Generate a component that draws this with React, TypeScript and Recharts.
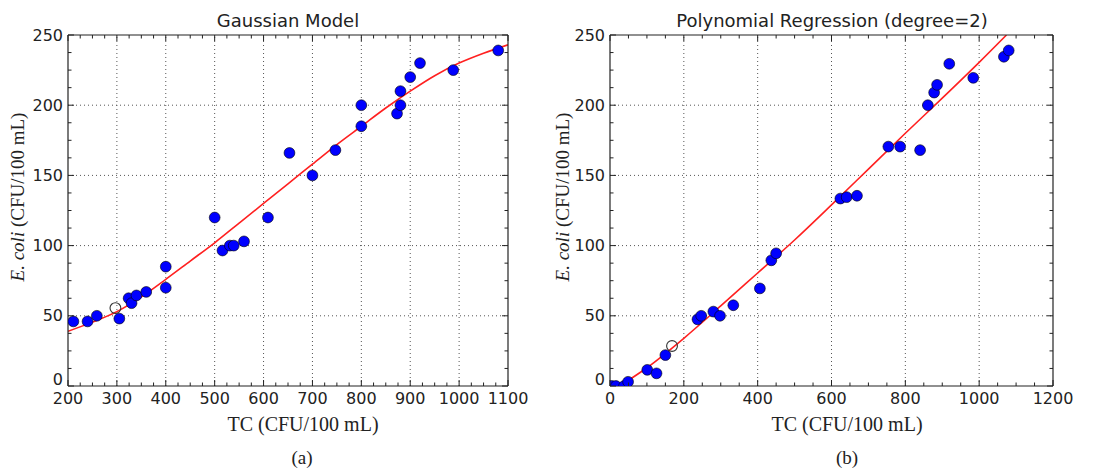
import React from "react";
import { ComposedChart, Scatter, Line, XAxis, YAxis, ReferenceLine } from "recharts";

// (a) Gaussian model: measured points
const gaussTc = [211, 240, 259, 305, 324, 330, 340, 360, 400, 400, 500, 516, 531, 539, 560, 609, 653, 700, 747, 800, 800, 873, 880, 880, 900, 920, 988, 1080];
const gaussEc = [46, 46, 50, 48, 62.5, 59, 64.5, 67, 85, 70, 120, 96.5, 100, 100, 103, 120, 166, 150, 168, 200, 185, 194, 210, 200, 220, 230, 225, 239];
const gaussOutTc = [297];
const gaussOutEc = [55.5];
// fitted curve
const gaussFitTc = [200, 250, 300, 350, 400, 450, 500, 550, 600, 650, 700, 750, 800, 850, 900, 950, 1000, 1050, 1100];
const gaussFitEc = [39, 45.5, 53, 63.5, 76, 89, 102, 116, 130, 144, 158, 172, 185, 198, 210, 221, 230, 237, 243];

// (b) polynomial regression
const polyTc = [5, 16, 38, 49, 101, 126, 150, 237, 247, 280, 298, 334, 406, 437, 450, 624, 641, 669, 754, 786, 840, 861, 878, 886, 919, 984, 1067, 1080];
const polyEc = [0, 0, 0, 3, 11.5, 9, 22, 47.5, 50, 53, 50, 57.5, 69.5, 89.5, 94.5, 133.5, 134.5, 135.5, 170.5, 170.5, 168, 200, 209, 214.5, 229.5, 219.5, 234.5, 239];
const polyOutTc = [168];
const polyOutEc = [28.5];
const polyFitTc = [26, 100, 200, 300, 400, 500, 600, 700, 800, 900, 1000, 1074];
const polyFitEc = [0, 13, 34, 57, 80.5, 104, 129, 154.5, 180, 205, 230.5, 250];

const yTicks = [0, 50, 100, 150, 200, 250];

const zip = (xs: number[], ys: number[]) => xs.map((x, i) => ({ x, y: ys[i] }));
const range = (a: number, b: number, s: number) => {
  const out: number[] = [];
  for (let v = a; v <= b + 1e-9; v += s) out.push(v);
  return out;
};

const INK = "#222";
const TICK_FONT = "'DejaVu Sans', sans-serif";
const SERIF = "'Liberation Serif', 'Times New Roman', serif";

const isMajor = (v: number, step: number) => Math.abs(v / step - Math.round(v / step)) < 1e-6;

const xTick = (step: number, top: boolean) => (p: any) => {
  const v = p.payload.value;
  const maj = isMajor(v, step);
  const len = maj ? 6 : 3.5;
  const dir = top ? 1 : -1;
  return (
    <g>
      <line x1={p.x} x2={p.x} y1={p.y} y2={p.y + dir * len} stroke={INK} strokeWidth={1} />
      {!top && maj && (
        <text x={p.x} y={p.y + 18} textAnchor="middle" fontSize={16} fontFamily={TICK_FONT} fill="#222">
          {v}
        </text>
      )}
    </g>
  );
};

const yTick = (step: number, right: boolean) => (p: any) => {
  const v = p.payload.value;
  const maj = isMajor(v, step);
  const len = maj ? 6 : 3.5;
  const dir = right ? -1 : 1;
  // lift the "0" so it clears the first x label
  const lift = v === 0 ? -7 : 0;
  return (
    <g>
      <line x1={p.x} x2={p.x + dir * len} y1={p.y} y2={p.y} stroke={INK} strokeWidth={1} />
      {!right && maj && (
        <text x={p.x - 5} y={p.y + lift} dy="0.35em" textAnchor="end" fontSize={16} fontFamily={TICK_FONT} fill="#222">
          {v}
        </text>
      )}
    </g>
  );
};

const dot = (p: any) => <circle cx={p.cx} cy={p.cy} r={5.4} fill="#0000ff" stroke="#000" strokeWidth={0.6} />;
const ring = (p: any) => <circle cx={p.cx} cy={p.cy} r={5.4} fill="none" stroke="#333" strokeWidth={1.1} />;

type PanelProps = {
  left: number;
  width: number;
  margin: { top: number; right: number; bottom: number; left: number };
  domain: [number, number];
  xStep: number;
  xMinor: number;
  pts: { x: number; y: number }[];
  out: { x: number; y: number }[];
  fit: { x: number; y: number }[];
};

const Panel = ({ left, width, margin, domain, xStep, xMinor, pts, out, fit }: PanelProps) => {
  const xs = range(domain[0], domain[1], xMinor);
  const ys = range(0, 250, 12.5);
  const gridX = range(domain[0] + xStep, domain[1] - xStep, xStep);
  const gridY = yTicks.slice(1, -1);
  const axisLine = { stroke: INK, strokeWidth: 1.2 };
  // axes take 1px each, so the margins are 1px smaller than the plot offsets
  const m = { top: margin.top - 1, right: margin.right - 1, bottom: margin.bottom - 1, left: margin.left - 1 };
  return (
    <div style={{ position: "absolute", left, top: 0 }}>
      <ComposedChart width={width} height={470} margin={m}>
        <XAxis xAxisId="b" dataKey="x" type="number" domain={domain} ticks={xs} interval={0} height={1}
          tickSize={0} tickMargin={0} tickLine={false} axisLine={axisLine} tick={xTick(xStep, false)} allowDataOverflow />
        <XAxis xAxisId="t" orientation="top" dataKey="x" type="number" domain={domain} ticks={xs} interval={0} height={1}
          tickSize={0} tickMargin={0} tickLine={false} axisLine={axisLine} tick={xTick(xStep, true)} allowDataOverflow />
        <YAxis yAxisId="l" dataKey="y" type="number" domain={[0, 250]} ticks={ys} interval={0} width={1}
          tickSize={0} tickMargin={0} tickLine={false} axisLine={axisLine} tick={yTick(50, false)} allowDataOverflow />
        <YAxis yAxisId="r" orientation="right" dataKey="y" type="number" domain={[0, 250]} ticks={ys} interval={0} width={1}
          tickSize={0} tickMargin={0} tickLine={false} axisLine={axisLine} tick={yTick(50, true)} allowDataOverflow />
        {gridX.map((v) => (
          <ReferenceLine key={"gx" + v} x={v} xAxisId="b" yAxisId="l" stroke="#555" strokeWidth={1} strokeDasharray="1 3" />
        ))}
        {gridY.map((v) => (
          <ReferenceLine key={"gy" + v} y={v} xAxisId="b" yAxisId="l" stroke="#555" strokeWidth={1} strokeDasharray="1 3" />
        ))}
        <Line data={fit} dataKey="y" xAxisId="b" yAxisId="l" type="monotone" stroke="#ff2020" strokeWidth={1.6}
          dot={false} activeDot={false} isAnimationActive={false} />
        <Scatter data={pts} dataKey="y" xAxisId="b" yAxisId="l" shape={dot} isAnimationActive={false} />
        <Scatter data={out} dataKey="y" xAxisId="b" yAxisId="l" shape={ring} isAnimationActive={false} />
      </ComposedChart>
    </div>
  );
};

const YLabel = ({ x }: { x: number }) => (
  <text transform={`translate(${x},197) rotate(-90)`} textAnchor="middle" fontSize={19} fontFamily={SERIF} fill="#222">
    <tspan fontStyle="italic">E. coli</tspan> (CFU/100 mL)
  </text>
);

export default function App() {
  return (
    <div style={{ position: "absolute", left: 0, top: 0, width: 1094, height: 470, background: "#fff" }}>
      <Panel left={0} width={560} margin={{ top: 35, right: 52, bottom: 84, left: 68 }} domain={[200, 1100]}
        xStep={100} xMinor={25} pts={zip(gaussTc, gaussEc)} out={zip(gaussOutTc, gaussOutEc)} fit={zip(gaussFitTc, gaussFitEc)} />
      <Panel left={548} width={546} margin={{ top: 35, right: 41, bottom: 84, left: 62 }} domain={[0, 1200]}
        xStep={200} xMinor={50} pts={zip(polyTc, polyEc)} out={zip(polyOutTc, polyOutEc)} fit={zip(polyFitTc, polyFitEc)} />
      <svg width={1094} height={470} style={{ position: "absolute", left: 0, top: 0, pointerEvents: "none" }}>
        <text x={288} y={27} textAnchor="middle" fontSize={18} fontFamily={TICK_FONT} fill="#222">Gaussian Model</text>
        <text x={832} y={27} textAnchor="middle" fontSize={18} fontFamily={TICK_FONT} fill="#222">Polynomial Regression (degree=2)</text>
        <YLabel x={24} />
        <YLabel x={569} />
        <text x={303} y={431} textAnchor="middle" fontSize={20} fontFamily={SERIF} fill="#222">TC (CFU/100 mL)</text>
        <text x={847} y={431} textAnchor="middle" fontSize={20} fontFamily={SERIF} fill="#222">TC (CFU/100 mL)</text>
        <text x={302} y={464} textAnchor="middle" fontSize={19} fontFamily={SERIF} fill="#222">(a)</text>
        <text x={847} y={464} textAnchor="middle" fontSize={19} fontFamily={SERIF} fill="#222">(b)</text>
      </svg>
    </div>
  );
}
